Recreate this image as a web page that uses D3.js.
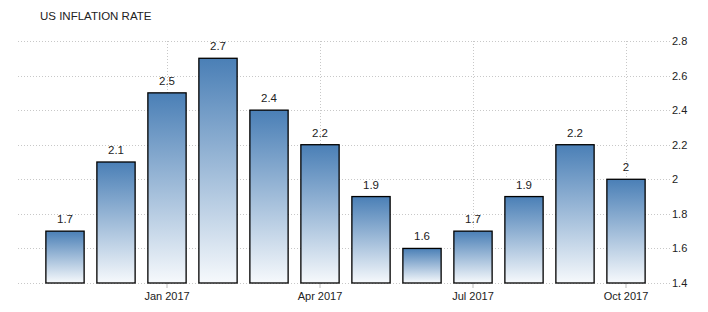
<!DOCTYPE html>
<html>
<head>
<meta charset="utf-8">
<script src="https://cdn.jsdelivr.net/npm/d3@7"></script>
<style>
    html, body { margin: 0; padding: 0; background: #fff; }
    svg { display: block; font-family: "Liberation Sans", Arial, sans-serif; }
    .grid line { stroke: #c8c8c8; stroke-dasharray: 1,2; }
</style>
</head>
<body>
<svg id="chart" width="708" height="312"></svg>
<script>
const months = ['Nov 2016', 'Dec 2016', 'Jan 2017', 'Feb 2017', 'Mar 2017', 'Apr 2017', 'May 2017', 'Jun 2017', 'Jul 2017', 'Aug 2017', 'Sep 2017', 'Oct 2017'];
const values = [1.7, 2.1, 2.5, 2.7, 2.4, 2.2, 1.9, 1.6, 1.7, 1.9, 2.2, 2.0];
const xTickLabels = ['Jan 2017', 'Apr 2017', 'Jul 2017', 'Oct 2017'];
const yTicks = [1.4, 1.6, 1.8, 2.0, 2.2, 2.4, 2.6, 2.8];

const svg = d3.select('#chart');
const fmt = v => String(+v.toFixed(1));

const x = d3.scaleBand().domain(months).range([39.5, 651.5]).paddingInner(0.25).paddingOuter(0.125);
const y = d3.scaleLinear().domain([1.4, 2.8]).range([283, 41]);
const gridLeft = 18, gridRight = 670;

const defs = svg.append('defs');
const grad = defs.append('linearGradient').attr('id', 'barFill').attr('x1', 0).attr('y1', 0).attr('x2', 0).attr('y2', 1);
grad.append('stop').attr('offset', '0%').attr('stop-color', '#4a7fb6');
grad.append('stop').attr('offset', '100%').attr('stop-color', '#f6f9fc');

svg.append('text').attr('x', 40).attr('y', 20).attr('font-size', 11.5).attr('fill', '#222').text('US INFLATION RATE');

// horizontal grid + y labels
const hgrid = svg.append('g').attr('class', 'grid');
hgrid.selectAll('line').data(yTicks).join('line')
    .attr('x1', gridLeft).attr('x2', gridRight)
    .attr('y1', d => Math.round(y(d)) + .5).attr('y2', d => Math.round(y(d)) + .5);
svg.append('g').selectAll('text').data(yTicks).join('text')
    .attr('x', 672).attr('y', d => y(d) + 4)
    .attr('font-size', 11).attr('fill', '#222').text(fmt);

// vertical grid at ticks
const vgrid = svg.append('g').attr('class', 'grid');
vgrid.selectAll('line').data(xTickLabels).join('line')
    .attr('x1', d => Math.round(x(d) + x.bandwidth() / 2) + .5).attr('x2', d => Math.round(x(d) + x.bandwidth() / 2) + .5)
    .attr('y1', y(2.8)).attr('y2', y(1.4));

// x axis ticks + labels
const xAxis = svg.append('g').attr('transform', `translate(0,${y(1.4)})`)
    .call(d3.axisBottom(x).tickValues(xTickLabels).tickSize(5).tickPadding(4));
xAxis.select('.domain').remove();
xAxis.selectAll('.tick line').attr('stroke', '#bbb');
xAxis.selectAll('.tick text').attr('font-size', 11).attr('fill', '#222').attr('font-family', '"Liberation Sans", Arial, sans-serif');

// bars
svg.append('g').selectAll('rect').data(values).join('rect')
    .attr('x', (d, i) => x(months[i]))
    .attr('y', d => y(d))
    .attr('width', x.bandwidth())
    .attr('height', d => y(1.4) - y(d))
    .attr('fill', 'url(#barFill)')
    .attr('stroke', '#000').attr('stroke-width', 1.3);

svg.append('g').selectAll('text').data(values).join('text')
    .attr('x', (d, i) => x(months[i]) + x.bandwidth() / 2)
    .attr('y', d => y(d) - 8)
    .attr('text-anchor', 'middle').attr('font-size', 11.5).attr('fill', '#222')
    .text(fmt);
</script>
</body>
</html>
